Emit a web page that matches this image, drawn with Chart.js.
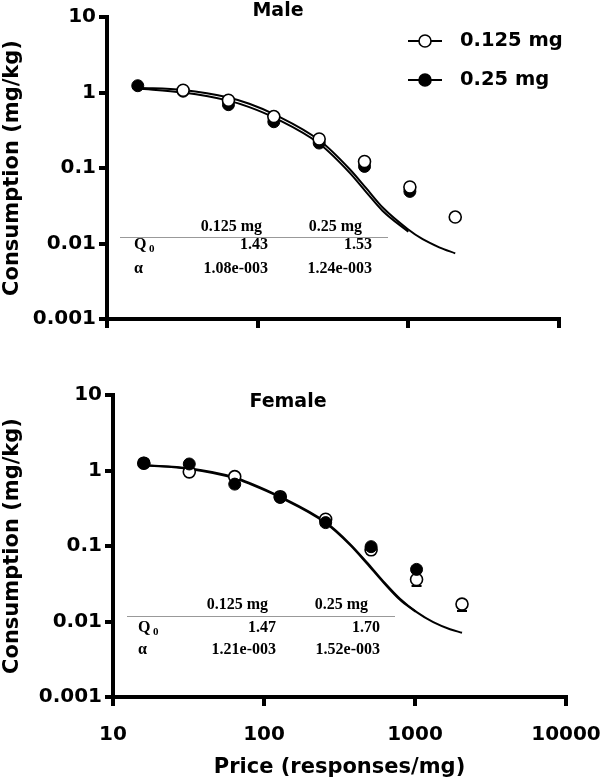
<!DOCTYPE html>
<html>
<head>
<meta charset="utf-8">
<script src="https://cdn.jsdelivr.net/npm/chart.js@4.4.0/dist/chart.umd.min.js"></script>
<style>
  body { margin: 0; background: #fff; }
  #wrap { position: relative; width: 600px; height: 780px; }
  .panel { position: absolute; left: 0; width: 600px; }
  #top { top: 0; height: 340px; }
  #bottom { top: 340px; height: 440px; }
</style>
</head>
<body>
<div id="wrap">
  <div class="panel" id="top"><canvas id="maleChart"></canvas></div>
  <div class="panel" id="bottom"><canvas id="femaleChart"></canvas></div>
</div>
<script>
// price steps (responses/mg)
const prices = [16, 32, 64, 128, 256, 512, 1024, 2048];

// observed consumption (mg/kg)
const male125 = [null, 1.07, 0.79, 0.48, 0.242, 0.122, 0.056, 0.0224];
const male25 = [1.23, 1.04, 0.69, 0.41, 0.214, 0.105, 0.049, null];
const female125 = [1.25, 0.96, 0.83, 0.45, 0.226, 0.089, 0.036, 0.017];
const female25 = [1.25, 1.22, 0.66, 0.44, 0.204, 0.098, 0.049, null];

// lower error bars visible on the female 0.125 mg points
const female125Low = [null, null, null, null, null, null, 0.0295, 0.0138];

// fitted demand curves
const maleFitX125 = [16, 32, 64, 88, 130, 258, 407, 525, 676, 989, 1245, 1603, 2048];
const maleFit125 = [1.16, 1.08, 0.86, 0.71, 0.51, 0.231, 0.097, 0.054, 0.030, 0.0156, 0.0114, 0.0089, 0.0074];
const maleFitX25 = [16, 32, 64, 88, 130, 258, 407, 525, 676, 1000];
const maleFit25 = [1.13, 1.0, 0.78, 0.64, 0.46, 0.208, 0.087, 0.048, 0.027, 0.0143];
const femaleFitX125 = [16, 32, 64, 81, 128, 253, 372, 479, 617, 795, 1026, 1321, 1706, 2048];
const femaleFit125 = [1.18, 1.07, 0.81, 0.68, 0.45, 0.21, 0.106, 0.061, 0.034, 0.020, 0.0133, 0.0098, 0.0079, 0.0071];
const femaleFitX25 = [16, 32, 64, 81, 128, 253, 372, 479, 617, 795, 1010];
const femaleFit25 = [1.17, 1.05, 0.79, 0.66, 0.44, 0.205, 0.103, 0.059, 0.033, 0.0194, 0.0135];

// axes
const xTicks = [10, 100, 1000, 10000];
const xTickLabels = ['10', '100', '1000', '10000'];
const yTicks = [0.001, 0.01, 0.1, 1, 10];
const yTickLabels = ['0.001', '0.01', '0.1', '1', '10'];

// parameter tables
const doseLabels = ['0.125 mg', '0.25 mg'];
const maleQ0 = ['1.43', '1.53'];
const maleAlpha = ['1.08e-003', '1.24e-003'];
const femaleQ0 = ['1.47', '1.70'];
const femaleAlpha = ['1.21e-003', '1.52e-003'];

const SANS = '"DejaVu Sans", sans-serif';
const SERIF = '"Liberation Serif", "Times New Roman", serif';
Chart.defaults.color = '#000';

function pts(xs, ys) {
    return xs.map((x, i) => ({ x: x, y: ys[i] })).filter(p => p.y !== null);
}

function pointSet(label, ys, filled) {
    return {
        label: label,
        data: pts(prices, ys),
        showLine: false,
        pointRadius: 6,
        pointHoverRadius: 6,
        pointBackgroundColor: filled ? '#000' : '#fff',
        pointBorderColor: '#000',
        pointBorderWidth: filled ? 1 : 1.6
    };
}

function fitSet(xs, ys) {
    return {
        data: pts(xs, ys),
        borderColor: '#000',
        borderWidth: 2,
        pointRadius: 0,
        cubicInterpolationMode: 'monotone',
        fill: false
    };
}

function drawTable(ctx, t, q0, alpha) {
    ctx.save();
    ctx.fillStyle = '#000';
    ctx.textBaseline = 'middle';
    ctx.font = 'bold 16px ' + SERIF;
    ctx.textAlign = 'right';
    ctx.fillText(doseLabels[0], t.headRight[0], t.headY);
    ctx.fillText(doseLabels[1], t.headRight[1], t.headY);
    ctx.fillText(q0[0], t.valRight[0], t.rowY[0]);
    ctx.fillText(q0[1], t.valRight[1], t.rowY[0]);
    ctx.fillText(alpha[0], t.valRight[0], t.rowY[1]);
    ctx.fillText(alpha[1], t.valRight[1], t.rowY[1]);
    ctx.textAlign = 'left';
    ctx.fillText('Q', t.labelX, t.rowY[0]);
    ctx.font = 'bold 11px ' + SERIF;
    ctx.fillText('0', t.labelX + 15, t.rowY[0] + 4);
    ctx.font = 'bold 16px ' + SERIF;
    ctx.fillText('α', t.labelX, t.rowY[1]);
    ctx.strokeStyle = '#999';
    ctx.lineWidth = 1;
    ctx.beginPath();
    ctx.moveTo(t.lineX[0], t.lineY);
    ctx.lineTo(t.lineX[1], t.lineY);
    ctx.stroke();
    ctx.restore();
}

function drawTitle(ctx, text, x, y) {
    ctx.save();
    ctx.fillStyle = '#000';
    ctx.font = 'bold 19px ' + SANS;
    ctx.textAlign = 'center';
    ctx.textBaseline = 'middle';
    ctx.fillText(text, x, y);
    ctx.restore();
}

function drawLegend(ctx) {
    const rows = [41, 80];
    ctx.save();
    doseLabels.forEach((lab, i) => {
        const y = rows[i];
        ctx.strokeStyle = '#000';
        ctx.lineWidth = 2;
        ctx.beginPath();
        ctx.moveTo(408, y);
        ctx.lineTo(442, y);
        ctx.stroke();
        ctx.beginPath();
        ctx.arc(425, y, 6, 0, Math.PI * 2);
        ctx.fillStyle = i === 0 ? '#fff' : '#000';
        ctx.fill();
        ctx.lineWidth = 1.6;
        ctx.stroke();
        ctx.fillStyle = '#000';
        ctx.font = 'bold 19.5px ' + SANS;
        ctx.textAlign = 'left';
        ctx.textBaseline = 'middle';
        ctx.fillText(lab, 460, y);
    });
    ctx.restore();
}

// keep the plot area where the layout padding puts it
function noLabelPadding(s) {
    s.paddingLeft = 0;
    s.paddingRight = 0;
    s.paddingTop = 0;
    s.paddingBottom = 0;
}

function scales(yWidth, xHeight, showXLabels) {
    const tickFont = { family: SANS, size: 20, weight: 'bold' };
    const titleFont = { family: SANS, size: 21, weight: 'bold' };
    return {
        x: {
            type: 'logarithmic',
            min: 10,
            max: 10000,
            afterBuildTicks: s => { s.ticks = xTicks.map(v => ({ value: v })); },
            afterFit: s => { s.height = xHeight; noLabelPadding(s); },
            border: { display: true, color: '#000', width: 4 },
            grid: { drawOnChartArea: false, drawTicks: true, tickLength: 9, color: '#000', lineWidth: 4 },
            ticks: {
                font: tickFont,
                color: '#000',
                padding: 17,
                maxRotation: 0,
                autoSkip: false,
                callback: (v, i) => showXLabels ? xTickLabels[i] : ''
            },
            title: {
                display: showXLabels,
                text: 'Price (responses/mg)',
                font: titleFont,
                color: '#000',
                padding: { top: 0, bottom: 0 }
            }
        },
        y: {
            type: 'logarithmic',
            min: 0.001,
            max: 10,
            afterBuildTicks: s => { s.ticks = yTicks.map(v => ({ value: v })); },
            afterFit: s => { s.width = yWidth; noLabelPadding(s); },
            border: { display: true, color: '#000', width: 4 },
            grid: { drawOnChartArea: false, drawTicks: true, tickLength: 8, color: '#000', lineWidth: 4 },
            ticks: {
                font: tickFont,
                color: '#000',
                padding: 3,
                autoSkip: false,
                callback: (v, i) => yTickLabels[i]
            },
            title: {
                display: true,
                text: 'Consumption (mg/kg)',
                font: titleFont,
                color: '#000',
                padding: { top: 0, bottom: 0 }
            }
        }
    };
}

// Male panel: open circles sit on top of filled ones
new Chart(document.getElementById('maleChart'), {
    type: 'line',
    data: {
        datasets: [
            pointSet('0.125 mg', male125, false),
            pointSet('0.25 mg', male25, true),
            fitSet(maleFitX125, maleFit125),
            fitSet(maleFitX25, maleFit25)
        ]
    },
    options: {
        responsive: true,
        maintainAspectRatio: false,
        animation: false,
        layout: { padding: { left: 0, right: 41, top: 17, bottom: 0 } },
        plugins: { legend: { display: false }, tooltip: { enabled: false } },
        scales: scales(107, 21, false)
    },
    plugins: [{
        id: 'maleExtras',
        afterDraw(chart) {
            const ctx = chart.ctx;
            drawTitle(ctx, 'Male', 278, 11);
            drawLegend(ctx);
            drawTable(ctx, {
                headRight: [262, 362], headY: 227,
                lineX: [120, 388], lineY: 237.5,
                rowY: [245, 269], labelX: 134, valRight: [268, 372]
            }, maleQ0, maleAlpha);
        }
    }]
});

// Female panel: filled circles sit on top of open ones
new Chart(document.getElementById('femaleChart'), {
    type: 'line',
    data: {
        datasets: [
            pointSet('0.25 mg', female25, true),
            pointSet('0.125 mg', female125, false),
            fitSet(femaleFitX125, femaleFit125),
            fitSet(femaleFitX25, femaleFit25)
        ]
    },
    options: {
        responsive: true,
        maintainAspectRatio: false,
        animation: false,
        layout: { padding: { left: 0, right: 34, top: 55, bottom: 0 } },
        plugins: { legend: { display: false }, tooltip: { enabled: false } },
        scales: scales(113, 83, true)
    },
    plugins: [{
        id: 'femaleExtras',
        beforeDatasetsDraw(chart) {
            const ctx = chart.ctx;
            const xs = chart.scales.x, ys = chart.scales.y;
            ctx.save();
            ctx.strokeStyle = '#000';
            ctx.lineWidth = 2;
            prices.forEach((p, i) => {
                if (female125Low[i] === null) return;
                const px = xs.getPixelForValue(p);
                const y0 = ys.getPixelForValue(female125[i]);
                const y1 = ys.getPixelForValue(female125Low[i]);
                ctx.beginPath();
                ctx.moveTo(px, y0);
                ctx.lineTo(px, y1);
                ctx.moveTo(px - 5, y1);
                ctx.lineTo(px + 5, y1);
                ctx.stroke();
            });
            ctx.restore();
        },
        afterDraw(chart) {
            const ctx = chart.ctx;
            drawTitle(ctx, 'Female', 288, 62);
            drawTable(ctx, {
                headRight: [268, 368], headY: 265,
                lineX: [127, 395], lineY: 276.5,
                rowY: [288, 310], labelX: 138, valRight: [276, 380]
            }, femaleQ0, femaleAlpha);
        }
    }]
});
</script>
</body>
</html>
